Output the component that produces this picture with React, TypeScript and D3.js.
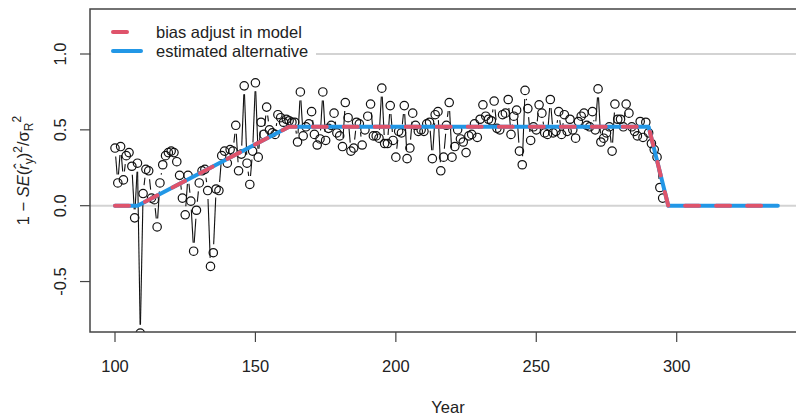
import React, { useEffect, useRef } from "react";
import * as d3 from "d3";

// yearly estimates, starting at firstYear
const firstYear = 100;
const values = [
  0.38, 0.15, 0.39, 0.17, 0.33, 0.35, 0.26, -0.08, 0.28, -0.84,
  0.08, 0.24, 0.23, 0.05, 0.04, -0.14, 0.15, 0.27, 0.33, 0.35,
  0.36, 0.35, 0.29, 0.2, 0.05, -0.06, 0.2, 0.03, -0.3, -0.03,
  0.15, 0.23, 0.24, 0.1, -0.4, -0.31, 0.11, 0.1, 0.33, 0.36,
  0.28, 0.37, 0.36, 0.53, 0.23, 0.34, 0.79, 0.28, 0.14, 0.36,
  0.81, 0.32, 0.55, 0.47, 0.65, 0.5, 0.48, 0.47, 0.6, 0.58,
  0.55, 0.57, 0.56, 0.55, 0.55, 0.42, 0.75, 0.46, 0.52, 0.54,
  0.62, 0.47, 0.4, 0.44, 0.75, 0.43, 0.51, 0.53, 0.61, 0.48,
  0.46, 0.39, 0.68, 0.58, 0.36, 0.38, 0.55, 0.54, 0.4, 0.5,
  0.59, 0.67, 0.46, 0.46, 0.445, 0.775, 0.41, 0.41, 0.66, 0.43,
  0.32, 0.49, 0.48, 0.66, 0.31, 0.38, 0.61, 0.53, 0.49, 0.5,
  0.49, 0.54, 0.55, 0.31, 0.6, 0.62, 0.23, 0.32, 0.53, 0.68,
  0.32, 0.39, 0.5, 0.44, 0.42, 0.35, 0.46, 0.47, 0.54, 0.45,
  0.57, 0.665, 0.59, 0.57, 0.56, 0.69, 0.51, 0.5, 0.6, 0.61,
  0.7, 0.47, 0.59, 0.63, 0.36, 0.27, 0.76, 0.64, 0.43, 0.52,
  0.5, 0.665, 0.61, 0.48, 0.47, 0.7, 0.48, 0.49, 0.62, 0.47,
  0.6, 0.49, 0.57, 0.5, 0.445, 0.555, 0.59, 0.61, 0.53, 0.52,
  0.62, 0.5, 0.77, 0.42, 0.445, 0.48, 0.52, 0.36, 0.67, 0.57,
  0.57, 0.52, 0.67, 0.61, 0.52, 0.49, 0.46, 0.555, 0.45, 0.55,
  0.48, 0.41, 0.37, 0.32, 0.12, 0.05,
];

// bias adjustment ramps
const rampYears = [100, 108, 162, 290, 297, 336];
const rampModel = [0, 0, 0.52, 0.52, 0, 0];
const rampAlt = [0, 0, 0.52, 0.52, 0, 0];

const xTicks = [100, 150, 200, 250, 300];
const yTicks = [-0.5, 0, 0.5, 1];
const refLines = [0, 1];
const legendLabels = ["bias adjust in model", "estimated alternative"];

const W = 796,
  H = 418;
const box = { left: 90, top: 9, right: 806, bottom: 332 };
const font = "'Liberation Sans', Arial, Helvetica, sans-serif";
const fs = 16.5;
const red = "#DF536B";
const blue = "#2297E6";

const x = d3.scaleLinear().domain([100, 300]).range([115, 676.7]);
const y = d3.scaleLinear().domain([0, 1]).range([205.7, 54]);

export default function App() {
  const ref = useRef<SVGSVGElement>(null);

  useEffect(() => {
    const svg = d3.select(ref.current);
    svg.selectAll("*").remove();

    svg
      .append("defs")
      .append("clipPath")
      .attr("id", "plotclip")
      .append("rect")
      .attr("x", box.left)
      .attr("y", box.top)
      .attr("width", box.right - box.left)
      .attr("height", box.bottom - box.top);

    const g = svg.append("g").attr("clip-path", "url(#plotclip)");

    // grey reference lines
    g.selectAll(".ref")
      .data(refLines)
      .enter()
      .append("line")
      .attr("x1", box.left)
      .attr("x2", box.right)
      .attr("y1", (d) => y(d))
      .attr("y2", (d) => y(d))
      .attr("stroke", "#d3d3d3")
      .attr("stroke-width", 2);

    const pts = values.map((v, i) => [x(firstYear + i), y(v)]);

    // type="b": segments with gaps round the points
    const gap = 8.5;
    const segs: number[][] = [];
    for (let i = 1; i < pts.length; i++) {
      const [x1, y1] = pts[i - 1];
      const [x2, y2] = pts[i];
      const dx = x2 - x1,
        dy = y2 - y1;
      const len = Math.sqrt(dx * dx + dy * dy);
      if (len <= 2 * gap) continue;
      const ux = dx / len,
        uy = dy / len;
      segs.push([x1 + ux * gap, y1 + uy * gap, x2 - ux * gap, y2 - uy * gap]);
    }
    g.append("g")
      .selectAll("line")
      .data(segs)
      .enter()
      .append("line")
      .attr("x1", (d) => d[0])
      .attr("y1", (d) => d[1])
      .attr("x2", (d) => d[2])
      .attr("y2", (d) => d[3])
      .attr("stroke", "#111")
      .attr("stroke-width", 1.1);

    g.append("g")
      .selectAll("circle")
      .data(pts)
      .enter()
      .append("circle")
      .attr("cx", (d) => d[0])
      .attr("cy", (d) => d[1])
      .attr("r", 4.2)
      .attr("fill", "none")
      .attr("stroke", "#111")
      .attr("stroke-width", 1.2);

    const line = d3
      .line<number>()
      .x((d, i) => x(rampYears[i]))
      .y((d) => y(d));

    g.append("path")
      .attr("d", line(rampAlt))
      .attr("fill", "none")
      .attr("stroke", blue)
      .attr("stroke-width", 4)
      .attr("stroke-linecap", "round")
      .attr("stroke-linejoin", "round");

    g.append("path")
      .attr("d", line(rampModel))
      .attr("fill", "none")
      .attr("stroke", red)
      .attr("stroke-width", 4)
      .attr("stroke-dasharray", "14 17")
      .attr("stroke-linecap", "round")
      .attr("stroke-linejoin", "round");

    // legend (white background, no border)
    const lg = svg.append("g");
    lg.append("rect")
      .attr("x", box.left + 1)
      .attr("y", box.top + 1)
      .attr("width", 225)
      .attr("height", 53)
      .attr("fill", "#fff");
    legendLabels.forEach((lab, i) => {
      const ly = 32 + i * 19;
      lg.append("line")
        .attr("x1", 113)
        .attr("x2", 141)
        .attr("y1", ly)
        .attr("y2", ly)
        .attr("stroke", i === 0 ? red : blue)
        .attr("stroke-width", 4)
        .attr("stroke-linecap", "round")
        .attr("stroke-dasharray", i === 0 ? "14 17" : null);
      lg.append("text")
        .attr("x", 156)
        .attr("y", ly + 6)
        .text(lab)
        .style("font-family", font)
        .style("font-size", fs + "px")
        .style("fill", "#222");
    });

    // box
    svg
      .append("rect")
      .attr("x", box.left)
      .attr("y", box.top)
      .attr("width", box.right - box.left)
      .attr("height", box.bottom - box.top)
      .attr("fill", "none")
      .attr("stroke", "#444")
      .attr("stroke-width", 1.5);

    // x axis
    const xa = svg.append("g");
    xTicks.forEach((t) => {
      xa.append("line")
        .attr("x1", x(t))
        .attr("x2", x(t))
        .attr("y1", box.bottom)
        .attr("y2", box.bottom + 10)
        .attr("stroke", "#444")
        .attr("stroke-width", 1.2);
      xa.append("text")
        .attr("x", x(t))
        .attr("y", 372)
        .attr("text-anchor", "middle")
        .text(String(t))
        .style("font-family", font)
        .style("font-size", fs + "px")
        .style("fill", "#222");
    });
    svg
      .append("text")
      .attr("x", 448)
      .attr("y", 413)
      .attr("text-anchor", "middle")
      .text("Year")
      .style("font-family", font)
      .style("font-size", fs + "px")
      .style("fill", "#222");

    // y axis
    const ya = svg.append("g");
    yTicks.forEach((t) => {
      ya.append("line")
        .attr("x1", box.left - 10)
        .attr("x2", box.left)
        .attr("y1", y(t))
        .attr("y2", y(t))
        .attr("stroke", "#444")
        .attr("stroke-width", 1.2);
      ya.append("text")
        .attr("transform", `translate(66,${y(t)}) rotate(-90)`)
        .attr("text-anchor", "middle")
        .text(t.toFixed(1))
        .style("font-family", font)
        .style("font-size", fs + "px")
        .style("fill", "#222");
    });

    // y title: 1 - SE(r^_y)^2 / sigma_R^2
    const yt = svg
      .append("text")
      .attr("transform", `translate(29,${(box.top + box.bottom) / 2}) rotate(-90)`)
      .attr("text-anchor", "middle")
      .style("font-family", font)
      .style("font-size", fs + "px")
      .style("fill", "#222");
    yt.append("tspan").text("1 \u2212 ");
    yt.append("tspan").style("font-style", "italic").text("SE");
    yt.append("tspan").text("(");
    yt.append("tspan").style("font-style", "italic").text("r\u0302");
    yt.append("tspan").attr("dy", 4).style("font-size", "12px").text("y");
    yt.append("tspan").attr("dy", -4).text(")");
    yt.append("tspan").attr("dy", -7).style("font-size", "12px").text("2");
    yt.append("tspan").attr("dy", 7).text("/\u03c3");
    yt.append("tspan").attr("dy", 4).style("font-size", "12px").text("R");
    yt.append("tspan").attr("dy", -12).style("font-size", "12px").text("2");
  }, []);

  return (
    <svg
      ref={ref}
      width={W}
      height={H}
      style={{ position: "absolute", left: 0, top: 0, background: "#fff" }}
    />
  );
}
